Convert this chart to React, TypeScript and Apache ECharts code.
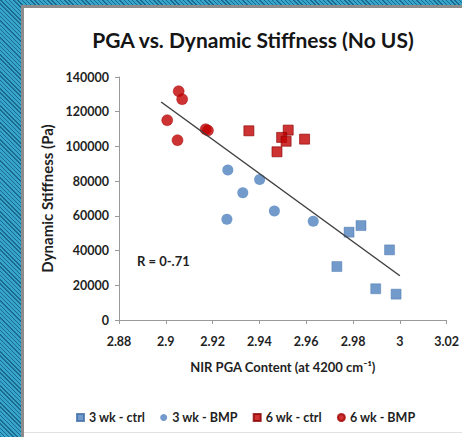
import React, { useEffect, useRef } from "react";
import * as echarts from "echarts";

const title = "PGA vs. Dynamic Stiffness (No US)";
const xName = "NIR PGA Content (at 4200 cm\u207B\u00B9)";
const yName = "Dynamic Stiffness (Pa)";
const rLabel = "R = 0-.71";

const seriesNames = ["3 wk - ctrl", "3 wk - BMP", "6 wk - ctrl", "6 wk - BMP"];

const ctrl3wk: [number, number][] = [
  [2.9783, 50600],
  [2.9834, 54400],
  [2.9956, 40400],
  [2.9731, 30800],
  [2.9897, 18000],
  [2.9984, 14900],
];
const bmp3wk: [number, number][] = [
  [2.9265, 86400],
  [2.9329, 73300],
  [2.9401, 81000],
  [2.9261, 58000],
  [2.9464, 62800],
  [2.963, 56900],
];
const ctrl6wk: [number, number][] = [
  [2.9355, 109000],
  [2.9523, 109400],
  [2.9495, 105200],
  [2.9514, 103000],
  [2.9475, 96900],
  [2.9593, 104200],
];
const bmp6wk: [number, number][] = [
  [2.9055, 131800],
  [2.907, 127200],
  [2.9006, 115100],
  [2.905, 103600],
  [2.917, 109900],
  [2.918, 109200],
];
const trendLine: [number, number][] = [
  [2.898, 125600],
  [3.0, 25500],
];

const BLUE = "#4f81bd";
const RED = "#c00000";
const FONT = "Lato";
const TEXT = "#1f1f1f";

export default function App() {
  const ref = useRef<HTMLDivElement>(null);
  useEffect(() => {
    if (!ref.current) return;
    const chart = echarts.init(ref.current, undefined, { renderer: "svg" });
    const axisLine = { lineStyle: { color: "#9a9a9a", width: 1 } };
    chart.setOption({
      animation: false,
      backgroundColor: "transparent",
      textStyle: { fontFamily: FONT },
      title: {
        text: title,
        left: 248,
        top: 24,
        textAlign: "center",
        textStyle: { fontFamily: FONT, fontSize: 21, fontWeight: "bold", color: "#151515" },
      },
      grid: { left: 119, right: 14, top: 77, bottom: 117, containLabel: false },
      legend: {
        left: 71,
        top: 406,
        itemWidth: 7,
        itemHeight: 7,
        itemGap: 15,
        data: [
          { name: seriesNames[0], icon: "rect" },
          { name: seriesNames[1], icon: "circle" },
          { name: seriesNames[2], icon: "rect" },
          { name: seriesNames[3], icon: "circle" },
        ],
        textStyle: { fontFamily: FONT, fontSize: 12.5, fontWeight: "bold", color: TEXT },
      },
      xAxis: {
        type: "value",
        min: 2.88,
        max: 3.02,
        interval: 0.02,
        name: xName,
        nameLocation: "middle",
        nameGap: 40,
        nameTextStyle: { fontFamily: FONT, fontSize: 13, fontWeight: "bold", color: TEXT },
        axisLine,
        axisTick: { show: true, length: 4, lineStyle: { color: "#9a9a9a" } },
        splitLine: { show: false },
        axisLabel: {
          margin: 15,
          fontFamily: FONT,
          fontSize: 12.5,
          fontWeight: "bold",
          color: TEXT,
          formatter: (v: number) => String(parseFloat(v.toFixed(2))),
        },
      },
      yAxis: {
        type: "value",
        min: 0,
        max: 140000,
        interval: 20000,
        name: yName,
        nameLocation: "middle",
        nameGap: 61,
        nameTextStyle: { fontFamily: FONT, fontSize: 15, fontWeight: "bold", color: TEXT },
        axisLine: { show: true, ...axisLine },
        axisTick: { show: true, length: 4, lineStyle: { color: "#9a9a9a" } },
        splitLine: { show: false },
        axisLabel: {
          margin: 10,
          fontFamily: FONT,
          fontSize: 12.5,
          fontWeight: "bold",
          color: TEXT,
          formatter: (v: number) => String(v),
        },
      },
      graphic: [
        {
          type: "text",
          x: 137,
          y: 254,
          style: { text: rLabel, fontFamily: FONT, fontSize: 13, fontWeight: "bold", fill: TEXT },
        },
      ],
      series: [
        {
          name: seriesNames[0],
          type: "scatter",
          symbol: "rect",
          symbolSize: 10,
          itemStyle: { color: BLUE, borderColor: "#3f6ea8", borderWidth: 0.5 },
          data: ctrl3wk,
          z: 3,
        },
        {
          name: seriesNames[1],
          type: "scatter",
          symbol: "circle",
          symbolSize: 11,
          itemStyle: { color: BLUE },
          data: bmp3wk,
          z: 3,
        },
        {
          name: seriesNames[2],
          type: "scatter",
          symbol: "rect",
          symbolSize: 10,
          itemStyle: { color: RED, borderColor: "#8a0000", borderWidth: 0.8 },
          data: ctrl6wk,
          z: 3,
        },
        {
          name: seriesNames[3],
          type: "scatter",
          symbol: "circle",
          symbolSize: 11,
          itemStyle: { color: RED, borderColor: "#a00000", borderWidth: 0.5 },
          data: bmp6wk,
          z: 3,
        },
        {
          name: "trend",
          type: "line",
          data: trendLine,
          symbol: "none",
          lineStyle: { color: "#404040", width: 1.5 },
          z: 4,
          silent: true,
        },
      ],
    });
    return () => chart.dispose();
  }, []);

  return (
    <div
      style={{
        position: "fixed",
        left: 0,
        top: 0,
        width: 462,
        height: 437,
        overflow: "hidden",
        backgroundColor: "#2a9fc8",
        backgroundImage:
          "repeating-linear-gradient(45deg, rgba(10,40,70,0.45) 0px, rgba(10,40,70,0.45) 1px, rgba(255,255,255,0.06) 1px, rgba(255,255,255,0.06) 3px)",
      }}
    >
      <div
        style={{
          position: "absolute",
          left: 21,
          top: 5,
          width: 441,
          height: 432,
          boxSizing: "border-box",
          background: "#ffffff",
          borderLeft: "3px solid #8c8c8c",
          borderTop: "3px solid #8c8c8c",
        }}
      />
      <div
        style={{ position: "absolute", left: 24, top: 432, width: 438, height: 1, background: "#e2e2e2" }}
      />
      <div ref={ref} style={{ position: "absolute", left: 0, top: 0, width: 462, height: 437 }} />
    </div>
  );
}
